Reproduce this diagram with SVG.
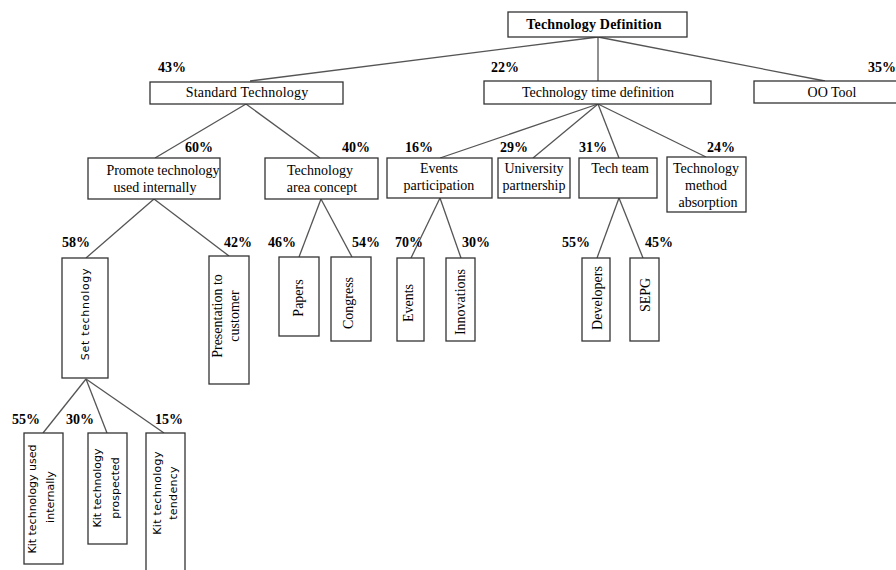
<svg xmlns="http://www.w3.org/2000/svg" width="896" height="570" viewBox="0 0 896 570">
<style>
.box{fill:#fff;stroke:#333;stroke-width:1.3}
.ln{stroke:#555;stroke-width:1.3;fill:none}
.t{font-family:"Liberation Serif","Times New Roman",serif;font-size:14px;fill:#000}
.s{font-family:"DejaVu Sans","Liberation Sans",sans-serif;font-size:11px;fill:#000}
.p{font-family:"Liberation Serif","Times New Roman",serif;font-size:14px;font-weight:bold;fill:#000}
.b{font-family:"Liberation Serif","Times New Roman",serif;font-size:14px;font-weight:bold;fill:#000}
</style>
<rect width="896" height="570" fill="#fff"/>
<g id="connectors">
<line class="ln" x1="598" y1="37" x2="250" y2="81"/>
<line class="ln" x1="598" y1="37" x2="598" y2="81"/>
<line class="ln" x1="598" y1="37" x2="825" y2="81"/>
<line class="ln" x1="246" y1="104" x2="155" y2="158"/>
<line class="ln" x1="246" y1="104" x2="320" y2="158"/>
<line class="ln" x1="598" y1="104" x2="440" y2="158"/>
<line class="ln" x1="598" y1="104" x2="533" y2="158"/>
<line class="ln" x1="598" y1="104" x2="619" y2="158"/>
<line class="ln" x1="598" y1="104" x2="706" y2="157"/>
<line class="ln" x1="154" y1="199" x2="86" y2="258"/>
<line class="ln" x1="154" y1="199" x2="229" y2="256"/>
<line class="ln" x1="321" y1="199" x2="299" y2="257"/>
<line class="ln" x1="321" y1="199" x2="352" y2="257"/>
<line class="ln" x1="440" y1="198" x2="411" y2="258"/>
<line class="ln" x1="440" y1="198" x2="461" y2="258"/>
<line class="ln" x1="619" y1="198" x2="597" y2="258"/>
<line class="ln" x1="619" y1="198" x2="643" y2="258"/>
<line class="ln" x1="86" y1="379" x2="43" y2="433"/>
<line class="ln" x1="86" y1="379" x2="107" y2="433"/>
<line class="ln" x1="86" y1="379" x2="164" y2="433"/>
</g>
<g id="n-root">
<rect class="box" x="508" y="12" width="179" height="25"/>
<text class="b" x="594" y="29" text-anchor="middle" letter-spacing="0.2">Technology Definition</text>
</g>
<g id="n-standard">
<rect class="box" x="150" y="82" width="193" height="22"/>
<text class="t" x="247" y="97" text-anchor="middle" letter-spacing="0.2">Standard Technology</text>
<text class="p" x="158" y="72">43%</text>
</g>
<g id="n-time">
<rect class="box" x="484" y="81" width="227" height="23"/>
<text class="t" x="598" y="97" text-anchor="middle">Technology time definition</text>
<text class="p" x="491" y="72">22%</text>
</g>
<g id="n-oo">
<rect class="box" x="754" y="81" width="150" height="22"/>
<text class="t" x="832" y="97" text-anchor="middle">OO Tool</text>
<text class="p" x="868" y="72">35%</text>
</g>
<g id="n-promote">
<rect class="box" x="88" y="158" width="132" height="41"/>
<text class="t" x="163" y="175" text-anchor="middle">Promote technology</text>
<text class="t" x="155" y="192" text-anchor="middle">used internally</text>
<text class="p" x="185" y="152">60%</text>
</g>
<g id="n-area">
<rect class="box" x="265" y="158" width="113" height="41"/>
<text class="t" x="320" y="175" text-anchor="middle">Technology</text>
<text class="t" x="322" y="192" text-anchor="middle">area concept</text>
<text class="p" x="342" y="152">40%</text>
</g>
<g id="n-events-part">
<rect class="box" x="387" y="158" width="105" height="40"/>
<text class="t" x="439" y="173" text-anchor="middle">Events</text>
<text class="t" x="439" y="190" text-anchor="middle">participation</text>
<text class="p" x="405" y="152">16%</text>
</g>
<g id="n-univ">
<rect class="box" x="498" y="158" width="72" height="40"/>
<text class="t" x="534" y="173" text-anchor="middle">University</text>
<text class="t" x="534" y="190" text-anchor="middle">partnership</text>
<text class="p" x="500" y="152">29%</text>
</g>
<g id="n-techteam">
<rect class="box" x="579" y="158" width="78" height="40"/>
<text class="t" x="620" y="173" text-anchor="middle">Tech team</text>
<text class="p" x="579" y="152">31%</text>
</g>
<g id="n-absorption">
<rect class="box" x="667" y="157" width="79" height="55"/>
<text class="t" x="706" y="173" text-anchor="middle">Technology</text>
<text class="t" x="706" y="190" text-anchor="middle">method</text>
<text class="t" x="708" y="207" text-anchor="middle">absorption</text>
<text class="p" x="707" y="152">24%</text>
</g>
<g id="n-set">
<rect class="box" x="62" y="258" width="46" height="120"/>
<text class="s" transform="translate(89,314) rotate(-90)" text-anchor="middle" letter-spacing="0.7">Set  technology</text>
<text class="p" x="62" y="247">58%</text>
</g>
<g id="n-presentation">
<rect class="box" x="209" y="256" width="40" height="128"/>
<text class="t" transform="translate(222,316) rotate(-90)" text-anchor="middle">Presentation to</text>
<text class="t" transform="translate(239,316) rotate(-90)" text-anchor="middle">customer</text>
<text class="p" x="224" y="247">42%</text>
</g>
<g id="n-papers">
<rect class="box" x="279" y="257" width="40" height="79"/>
<text class="t" transform="translate(303,298) rotate(-90)" text-anchor="middle">Papers</text>
<text class="p" x="268" y="247">46%</text>
</g>
<g id="n-congress">
<rect class="box" x="331" y="257" width="40" height="84"/>
<text class="t" transform="translate(353,303) rotate(-90)" text-anchor="middle">Congress</text>
<text class="p" x="352" y="247">54%</text>
</g>
<g id="n-events">
<rect class="box" x="397" y="258" width="27" height="83"/>
<text class="t" transform="translate(413,303) rotate(-90)" text-anchor="middle">Events</text>
<text class="p" x="395" y="247">70%</text>
</g>
<g id="n-innovations">
<rect class="box" x="446" y="258" width="29" height="83"/>
<text class="t" transform="translate(465,302) rotate(-90)" text-anchor="middle">Innovations</text>
<text class="p" x="462" y="247">30%</text>
</g>
<g id="n-developers">
<rect class="box" x="582" y="258" width="28" height="83"/>
<text class="t" transform="translate(602,298) rotate(-90)" text-anchor="middle">Developers</text>
<text class="p" x="562" y="247">55%</text>
</g>
<g id="n-sepg">
<rect class="box" x="630" y="258" width="29" height="83"/>
<text class="t" transform="translate(650,295) rotate(-90)" text-anchor="middle">SEPG</text>
<text class="p" x="645" y="247">45%</text>
</g>
<g id="n-kit-used">
<rect class="box" x="24" y="433" width="39" height="131"/>
<text class="s" transform="translate(36,499) rotate(-90)" text-anchor="middle">Kit technology used</text>
<text class="s" transform="translate(54,497) rotate(-90)" text-anchor="middle">internally</text>
<text class="p" x="12" y="424">55%</text>
</g>
<g id="n-kit-prospected">
<rect class="box" x="88" y="433" width="39" height="111"/>
<text class="s" transform="translate(101,488) rotate(-90)" text-anchor="middle">Kit technology</text>
<text class="s" transform="translate(119,488) rotate(-90)" text-anchor="middle">prospected</text>
<text class="p" x="66" y="424">30%</text>
</g>
<g id="n-kit-tendency">
<rect class="box" x="146" y="433" width="39" height="150"/>
<text class="s" transform="translate(161,493) rotate(-90)" text-anchor="middle" letter-spacing="0.3">Kit technology</text>
<text class="s" transform="translate(177,493) rotate(-90)" text-anchor="middle" letter-spacing="0.3">tendency</text>
<text class="p" x="155" y="424">15%</text>
</g>
</svg>
